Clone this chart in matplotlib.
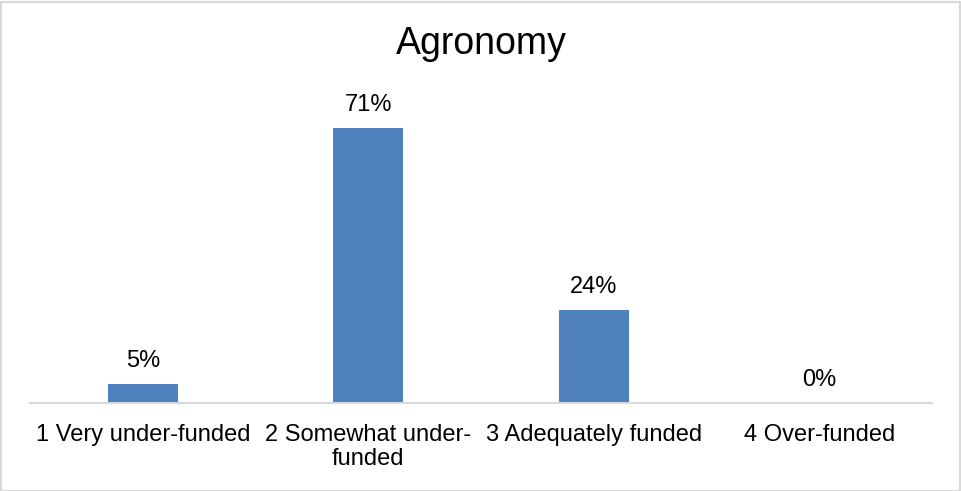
import matplotlib
matplotlib.use("Agg")
import matplotlib.pyplot as plt
from matplotlib.patches import Rectangle

categories = ["1 Very under-funded", "2 Somewhat under-\nfunded", "3 Adequately funded", "4 Over-funded"]
values = [0.05, 0.71, 0.24, 0.0]
labels = ["5%", "71%", "24%", "0%"]
title = "Agronomy"

plt.rcParams['font.family'] = ['Liberation Sans', 'DejaVu Sans']

W, H = 961, 491
fig = plt.figure(figsize=(W/100, H/100), dpi=100)
fig.patch.set_facecolor('white')
fig.patches.append(Rectangle((0.5/W, 0.5/H), 1 - 2/W, 1 - 2/H, transform=fig.transFigure,
                             fill=False, edgecolor='#D9D9D9', linewidth=1.5))

left, right, bottom_px, top_px = 30, 932, 403, 93
ax = fig.add_axes([left/W, (H-bottom_px)/H, (right-left)/W, (bottom_px-top_px)/H])
x = list(range(len(categories)))
ax.bar(x, values, width=0.31, color='#4F81BD')
ax.set_xlim(-0.5, len(categories)-0.5)
ax.set_ylim(0, 0.8)
for xi, v, lab in zip(x, values, labels):
    ax.annotate(lab, (xi, v), xytext=(0, 17), textcoords='offset pixels',
                ha='center', va='baseline', fontsize=17, color='#000000')
ax.set_xticks(x)
ax.set_xticklabels(categories, fontsize=17, color='#000000', linespacing=1.15)
ax.tick_params(axis='x', length=0, pad=15)
ax.set_yticks([])
for s in ['top', 'right', 'left']:
    ax.spines[s].set_visible(False)
ax.spines['bottom'].set_color('#D9D9D9')
ax.spines['bottom'].set_linewidth(1.5)
fig.text((left+right)/2/W, 1 - 54/H, title, ha='center', va='baseline', fontsize=27, color='#000000')

fig.savefig("out.png", dpi=100)
